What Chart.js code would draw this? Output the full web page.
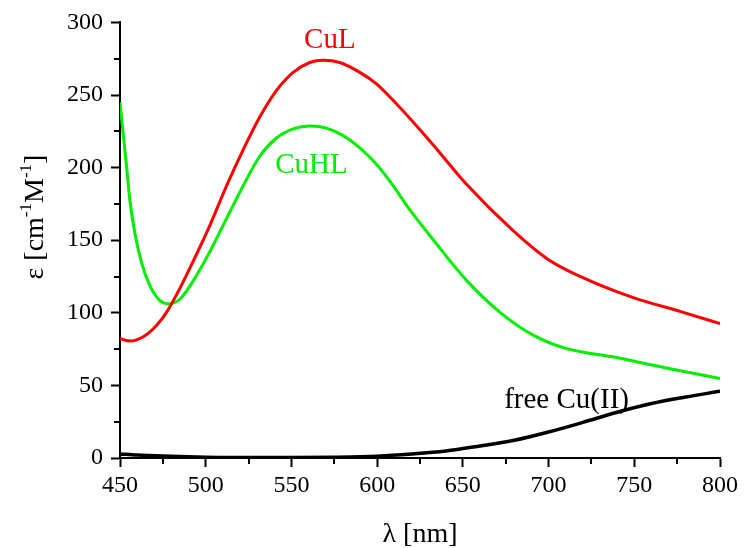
<!DOCTYPE html>
<html>
<head>
<meta charset="utf-8">
<script src="https://cdn.jsdelivr.net/npm/chart.js@4.4.0/dist/chart.umd.min.js"></script>
<style>
  html, body { margin: 0; padding: 0; background: #fff; }
  #wrap { width: 745px; height: 548px; position: relative; }
</style>
</head>
<body>
<div id="wrap"><canvas id="spectraChart"></canvas></div>
<script>
// wavelengths (nm) and molar absorptivity
const cuLWave = [450, 455.8, 463.6, 471.4, 477.2, 485, 492.7, 502.5, 512.2, 521.9, 531.6, 541.3, 551, 560.7, 568.5, 578.2, 589.9, 599.6, 609.3, 619, 632.6, 652, 679, 700, 720, 749, 778, 800];
const cuLEps  = [82.3, 80.5, 83.5, 91.4, 100.5, 117, 135.5, 160.4, 187.6, 212.4, 235, 253.2, 265.6, 272.4, 274, 272.4, 265.6, 257.7, 246.4, 234, 215.8, 188.7, 157, 136.6, 124.2, 110.6, 100.5, 92.5];

const cuHLWave = [450, 451.9, 453.9, 455.8, 458.7, 462.6, 467.5, 473.3, 478.5, 485, 492.7, 502.5, 512.2, 521.9, 531.6, 541.3, 551, 560.7, 570.5, 580.2, 589.9, 599.6, 609.3, 619, 632.6, 652, 671.5, 691, 710, 739.5, 768.6, 800];
const cuHLEps  = [245, 222.6, 200, 177, 154.8, 134.4, 118.6, 108.4, 106.2, 109.5, 122, 142.3, 165, 187.6, 208, 220.4, 226.7, 228.7, 227.2, 222, 213.6, 202.3, 187.6, 171, 150.5, 122.5, 100.5, 84.6, 75.5, 69.2, 62, 54.8];

const freeCuWave = [450, 460, 475, 500, 525, 550, 575, 600, 620, 640, 660, 680, 700, 720, 740, 760, 780, 800];
const freeCuEps  = [2.8, 2.0, 1.3, 0.6, 0.3, 0.3, 0.5, 1.2, 2.7, 4.8, 8.3, 12.2, 17.9, 24.5, 31.5, 37.5, 42, 46];

const xTicksMinor = [475, 525, 575, 625, 675, 725, 775];
const yTicksMinor = [25, 75, 125, 175, 225, 275];

// curve labels: [text, wavelength, epsilon, colour]
const curveLabels = [
  ['CuL', 572.4, 282.4, '#ff0000'],
  ['CuHL', 561.7, 196.2, '#00ee00'],
  ['free Cu(II)', 710.5, 34.6, '#000000']
];

function toPoints(xs, ys) {
  return xs.map((x, i) => ({ x: x, y: ys[i] }));
}

const serif = "'Liberation Serif', 'DejaVu Serif', serif";

const decorPlugin = {
  id: 'decor',
  afterDraw(chart) {
    const ctx = chart.ctx;
    const xs = chart.scales.x;
    const ys = chart.scales.y;
    const area = chart.chartArea;

    // minor ticks
    ctx.save();
    ctx.strokeStyle = '#000';
    ctx.lineWidth = 2;
    ctx.beginPath();
    xTicksMinor.forEach(v => {
      const px = Math.round(xs.getPixelForValue(v));
      ctx.moveTo(px, area.bottom);
      ctx.lineTo(px, area.bottom + 6);
    });
    yTicksMinor.forEach(v => {
      const py = Math.round(ys.getPixelForValue(v));
      ctx.moveTo(area.left, py);
      ctx.lineTo(area.left - 6, py);
    });
    ctx.stroke();

    // curve labels
    ctx.font = '29px ' + serif;
    ctx.textAlign = 'center';
    ctx.textBaseline = 'alphabetic';
    curveLabels.forEach(l => {
      ctx.fillStyle = l[3];
      ctx.fillText(l[0], xs.getPixelForValue(l[1]), ys.getPixelForValue(l[2]));
    });

    // x axis title
    ctx.fillStyle = '#000';
    ctx.font = '28px ' + serif;
    ctx.fillText('λ [nm]', (area.left + area.right) / 2, 542);

    // y axis title with superscripts
    const parts = [['ε [cm', false], ['-1', true], ['M', false], ['-1', true], [']', false]];
    const big = '28px ' + serif;
    const small = '17px ' + serif;
    let total = 0;
    parts.forEach(p => { ctx.font = p[1] ? small : big; total += ctx.measureText(p[0]).width; });
    ctx.translate(43, 217);
    ctx.rotate(-Math.PI / 2);
    ctx.textAlign = 'left';
    let pos = -total / 2;
    parts.forEach(p => {
      ctx.font = p[1] ? small : big;
      ctx.fillText(p[0], pos, p[1] ? -12 : 0);
      pos += ctx.measureText(p[0]).width;
    });
    ctx.restore();
  }
};

const ctx = document.getElementById('spectraChart').getContext('2d');
new Chart(ctx, {
  type: 'line',
  data: {
    datasets: [
      { label: 'CuL', data: toPoints(cuLWave, cuLEps), borderColor: '#ff0000', borderWidth: 3, pointRadius: 0, cubicInterpolationMode: 'monotone' },
      { label: 'CuHL', data: toPoints(cuHLWave, cuHLEps), borderColor: '#00ee00', borderWidth: 3, pointRadius: 0, cubicInterpolationMode: 'monotone' },
      { label: 'free Cu(II)', data: toPoints(freeCuWave, freeCuEps), borderColor: '#000000', borderWidth: 3.5, pointRadius: 0, cubicInterpolationMode: 'monotone' }
    ]
  },
  options: {
    responsive: true,
    maintainAspectRatio: false,
    animation: false,
    devicePixelRatio: 1,
    layout: { padding: { top: 16, right: 25, left: 0, bottom: 0 } },
    plugins: { legend: { display: false }, tooltip: { enabled: false } },
    scales: {
      x: {
        type: 'linear', min: 450, max: 800,
        afterFit: s => { s.height = 90; },
        border: { display: true, color: '#000', width: 2 },
        grid: { drawOnChartArea: false, drawTicks: true, tickLength: 9, tickWidth: 2, tickColor: '#000' },
        ticks: { stepSize: 50, color: '#000', padding: 4, font: { family: serif, size: 24 }, maxRotation: 0 }
      },
      y: {
        min: 0, max: 300,
        afterFit: s => { s.width = 120; },
        border: { display: true, color: '#000', width: 2 },
        grid: { drawOnChartArea: false, drawTicks: true, tickLength: 9, tickWidth: 2, tickColor: '#000' },
        ticks: { stepSize: 50, color: '#000', padding: 8, font: { family: serif, size: 24 } }
      }
    }
  },
  plugins: [decorPlugin]
});
</script>
</body>
</html>
